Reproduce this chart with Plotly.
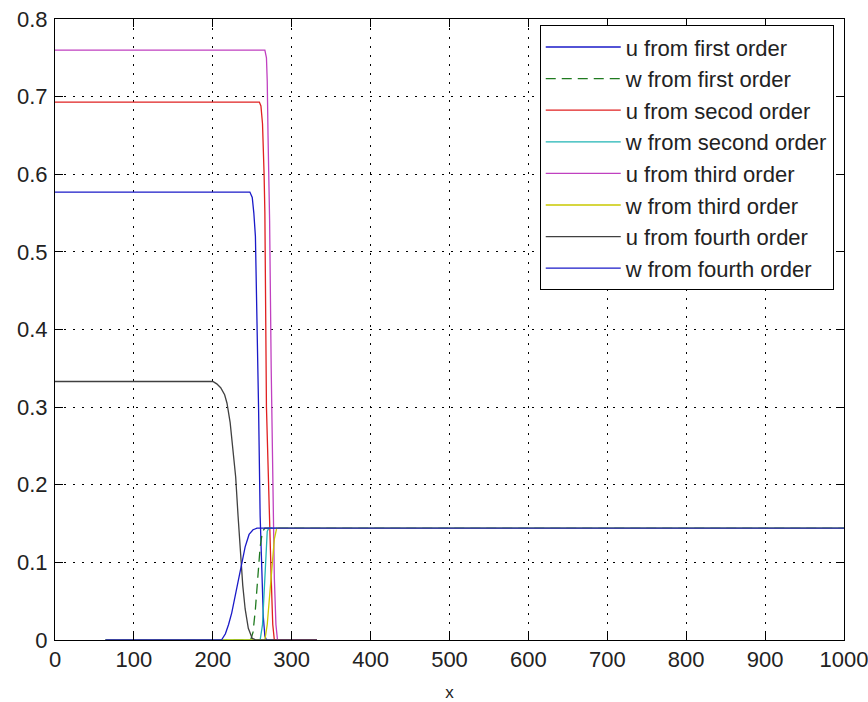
import plotly.graph_objects as go

# ---- data ----
u1_x = [0, 247, 250, 252, 254, 256, 258, 260, 262, 264, 266, 268, 332]
u1_y = [0.577, 0.577, 0.570, 0.55, 0.52, 0.42, 0.30, 0.16, 0.08, 0.03, 0.005, 0, 0]

w1_x = [64, 248, 251, 254, 257, 260, 263, 266, 1000]
w1_y = [0, 0, 0.01, 0.04, 0.08, 0.12, 0.14, 0.144, 0.144]

u2_x = [0, 259, 261, 263, 265, 266, 268, 270, 272, 274, 276, 278, 332]
u2_y = [0.693, 0.693, 0.688, 0.665, 0.60, 0.55, 0.30, 0.22, 0.16, 0.08, 0.02, 0, 0]

w2_x = [64, 260, 263, 265, 267, 269, 271, 1000]
w2_y = [0, 0, 0.02, 0.06, 0.11, 0.14, 0.144, 0.144]

u3_x = [0, 266, 268, 269, 270, 272, 274, 276, 278, 280, 282, 332]
u3_y = [0.76, 0.76, 0.75, 0.72, 0.65, 0.54, 0.35, 0.20, 0.08, 0.02, 0, 0]

w3_x = [64, 266, 269, 272, 275, 278, 281, 1000]
w3_y = [0, 0, 0.02, 0.06, 0.10, 0.13, 0.144, 0.144]

u4_x = [0, 200, 205, 210, 215, 218, 222, 224, 226, 229, 232, 235, 238, 241, 245, 250, 255, 332]
u4_y = [0.333, 0.333, 0.33, 0.325, 0.316, 0.305, 0.28, 0.258, 0.24, 0.21, 0.16, 0.11,
        0.07, 0.04, 0.015, 0.002, 0, 0]

w4_x = [64, 211, 216, 220, 224, 228, 233, 237, 241, 246, 251, 256, 1000]
w4_y = [0, 0, 0.008, 0.02, 0.035, 0.055, 0.077, 0.10, 0.12, 0.136, 0.142, 0.144, 0.144]

series_names = ["u from first order", "w from first order", "u from secod order",
                "w from second order", "u from third order", "w from third order",
                "u from fourth order", "w from fourth order"]
x_ticks = [0, 100, 200, 300, 400, 500, 600, 700, 800, 900, 1000]
y_ticks = [0, 0.1, 0.2, 0.3, 0.4, 0.5, 0.6, 0.7, 0.8]
y_tick_labels = ["0", "0.1", "0.2", "0.3", "0.4", "0.5", "0.6", "0.7", "0.8"]

series = [(u1_x, u1_y), (w1_x, w1_y), (u2_x, u2_y), (w2_x, w2_y),
          (u3_x, u3_y), (w3_x, w3_y), (u4_x, u4_y), (w4_x, w4_y)]
colors = ["#1a1ac8", "#1f7a1f", "#e02020", "#20b4b4", "#c040c0", "#c8c800", "#404040", "#1a1ac8"]
dashes = ["solid", "10px,6px", "solid", "solid", "solid", "solid", "solid", "solid"]

fig = go.Figure()
for (xs, ys), name, c, d in zip(series, series_names, colors, dashes):
    fig.add_trace(go.Scatter(x=xs, y=ys, mode="lines", name=name,
                             line=dict(color=c, width=1.3, dash=d)))

font_family = "Liberation Sans, Arial, sans-serif"
axis_common = dict(
    showline=True, linecolor="black", linewidth=1, mirror="ticks",
    ticks="inside", ticklen=8, tickcolor="black", tickwidth=1,
    showgrid=True, gridcolor="black", gridwidth=1, griddash="2px,7px",
    zeroline=False, automargin=False, ticklabeloverflow="allow",
    tickfont=dict(family=font_family, size=22, color="#222"),
)

fig.update_layout(
    width=868, height=702,
    margin=dict(l=55, r=24, t=19, b=62),
    paper_bgcolor="white", plot_bgcolor="white",
    showlegend=True,
    legend=dict(
        x=0.987, y=0.99, xanchor="right", yanchor="top",
        bgcolor="white", bordercolor="black", borderwidth=1,
        font=dict(family=font_family, size=22, color="#222"),
        itemwidth=75, tracegroupgap=0,
    ),
    xaxis=dict(range=[0, 1000], tickvals=x_ticks, ticktext=[str(v) for v in x_ticks],
               title=dict(text="x", font=dict(family=font_family, size=17, color="#222"), standoff=14),
               **axis_common),
    yaxis=dict(range=[0, 0.8], tickvals=y_ticks, ticktext=y_tick_labels, ticklabelstandoff=2,
               **axis_common),
)

fig.write_html("out.html")
